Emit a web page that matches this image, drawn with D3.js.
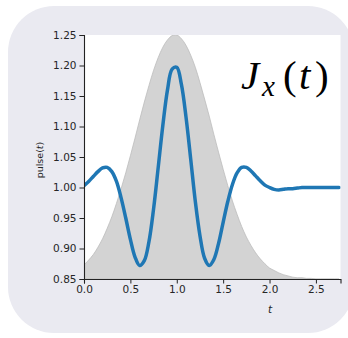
<!DOCTYPE html>
<html>
<head>
<meta charset="utf-8">
<script src="https://cdn.jsdelivr.net/npm/d3@7"></script>
<style>
  html, body { margin: 0; padding: 0; background: #fff; }
  svg { display: block; }
</style>
</head>
<body>
<div id="chart"></div>
<script>
// sample times (t)
const times = d3.range(56).map(i => +(i * 0.05).toFixed(2));

// pulse(t)
const pulse = [
  1.003, 1.010, 1.018, 1.026, 1.032, 1.033, 1.026, 1.010, 0.983, 0.950,
  0.915, 0.886, 0.872, 0.880, 0.911, 0.965, 1.033, 1.102, 1.160, 1.194,
  1.197, 1.169, 1.115, 1.047, 0.977, 0.921, 0.884, 0.872, 0.882, 0.908,
  0.943, 0.977, 1.005, 1.024, 1.033, 1.033, 1.027, 1.019, 1.011, 1.004,
  1.000, 0.997, 0.996, 0.997, 0.998, 0.998, 0.999, 1.000, 1.000, 1.000,
  1.000, 1.000, 1.000, 1.000, 1.000, 1.000
];

// grey envelope
const envelope = [
  0.873, 0.881, 0.890, 0.902, 0.916, 0.933, 0.952, 0.974, 0.998, 1.024,
  1.052, 1.081, 1.111, 1.140, 1.167, 1.192, 1.213, 1.230, 1.242, 1.249,
  1.250, 1.244, 1.233, 1.217, 1.197, 1.172, 1.145, 1.117, 1.087, 1.058,
  1.030, 1.003, 0.978, 0.956, 0.936, 0.919, 0.905, 0.893, 0.883, 0.875,
  0.868, 0.864, 0.860, 0.857, 0.855, 0.853, 0.852, 0.852, 0.851, 0.851,
  0.850, 0.850, 0.850, 0.850, 0.850, 0.850
];

const xTicks = [0, 0.5, 1.0, 1.5, 2.0, 2.5];
const yTicks = [0.85, 0.90, 0.95, 1.00, 1.05, 1.10, 1.15, 1.20, 1.25];

const width = 348, height = 338;
const margin = { top: 35, right: 7.5, bottom: 59, left: 84 };

const x = d3.scaleLinear()
  .domain([0, 2.765])
  .range([margin.left, width - margin.right]);
const y = d3.scaleLinear()
  .domain([0.85, 1.25])
  .range([height - margin.bottom, margin.top]);

const svg = d3.select('#chart').append('svg')
  .attr('width', width)
  .attr('height', height);

// rounded panel behind everything
svg.append('rect')
  .attr('x', 8).attr('y', 6)
  .attr('width', 346).attr('height', 327)
  .attr('rx', 46).attr('ry', 46)
  .attr('fill', '#eaeaf1');

svg.append('clipPath').attr('id', 'plot')
  .append('rect')
  .attr('x', margin.left).attr('y', margin.top)
  .attr('width', x.range()[1] - margin.left)
  .attr('height', y.range()[0] - margin.top);

svg.append('rect')
  .attr('x', margin.left).attr('y', margin.top)
  .attr('width', x.range()[1] - margin.left)
  .attr('height', y.range()[0] - margin.top)
  .attr('fill', '#fff');

const data = times.map((t, i) => ({ t, p: pulse[i], e: envelope[i] }));

const g = svg.append('g').attr('clip-path', 'url(#plot)');

g.append('path')
  .datum(data)
  .attr('fill', '#d3d3d3')
  .attr('stroke', '#bdbdbd')
  .attr('stroke-width', 0.8)
  .attr('d', d3.area()
    .x(d => x(d.t))
    .y0(y(0.85))
    .y1(d => y(d.e))
    .curve(d3.curveCatmullRom));

g.append('path')
  .datum(data)
  .attr('fill', 'none')
  .attr('stroke', '#1f77b4')
  .attr('stroke-width', 3.5)
  .attr('stroke-linecap', 'round')
  .attr('d', d3.line()
    .x(d => x(d.t))
    .y(d => y(d.p))
    .curve(d3.curveCatmullRom));

// axes
const yAxis = gg => gg.attr('transform', `translate(${margin.left},0)`)
  .call(d3.axisLeft(y).tickValues(yTicks).tickFormat(d3.format('.2f')).tickSize(4.5).tickPadding(3))
  .call(gg => gg.select('.domain').attr('stroke', '#222').attr('stroke-width', 1.1))
  .call(gg => gg.selectAll('.tick line').attr('stroke', '#222'))
  .call(gg => gg.selectAll('.tick text')
    .attr('fill', '#262626')
    .attr('font-family', 'DejaVu Sans')
    .attr('font-size', 10.5));

const xAxis = gg => gg.attr('transform', `translate(0,${y.range()[0]})`)
  .call(d3.axisBottom(x).tickValues(xTicks).tickFormat(d3.format('.1f')).tickSize(4.5).tickPadding(2))
  .call(gg => gg.select('.domain').attr('stroke', '#222').attr('stroke-width', 1.1))
  .call(gg => gg.selectAll('.tick line').attr('stroke', '#222'))
  .call(gg => gg.selectAll('.tick text')
    .attr('fill', '#262626')
    .attr('font-family', 'DejaVu Sans')
    .attr('font-size', 10.5));

svg.append('g').call(xAxis);
svg.append('g').call(yAxis);

// axis labels
const ylab = svg.append('text')
  .attr('transform', `translate(43,${(margin.top + y.range()[0]) / 2 + 3}) rotate(-90)`)
  .attr('text-anchor', 'middle')
  .attr('font-family', 'DejaVu Sans')
  .attr('font-size', 9.5)
  .attr('fill', '#262626');
ylab.append('tspan').text('pulse(');
ylab.append('tspan').attr('font-style', 'italic').text('t');
ylab.append('tspan').text(')');

svg.append('text')
  .attr('x', 270).attr('y', 313)
  .attr('text-anchor', 'middle')
  .attr('font-family', 'DejaVu Sans')
  .attr('font-style', 'italic')
  .attr('font-size', 10.5)
  .attr('fill', '#262626')
  .text('t');

// big J_x(t) label
const lab = svg.append('text')
  .attr('y', 89)
  .attr('font-family', 'Liberation Serif')
  .attr('font-size', 41)
  .attr('fill', '#000');
lab.append('tspan').attr('x', 241).attr('font-style', 'italic').text('J');
lab.append('tspan').attr('x', 262).attr('font-style', 'italic').attr('font-size', 29).attr('dy', 7).text('x');
lab.append('tspan').attr('x', 283).attr('dy', -7).text('(');
lab.append('tspan').attr('x', 299).attr('font-style', 'italic').text('t');
lab.append('tspan').attr('x', 315).text(')');
</script>
</body>
</html>
